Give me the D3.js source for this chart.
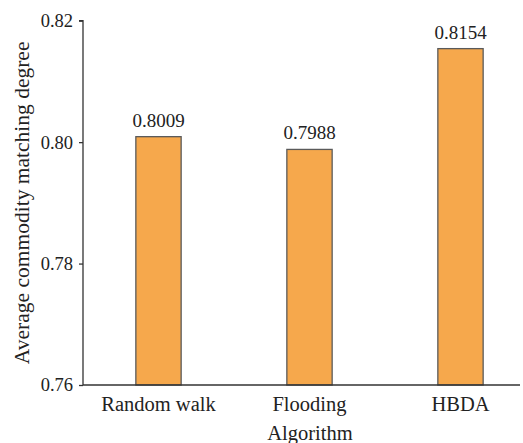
<!DOCTYPE html>
<html><head><meta charset="utf-8">
<script src="https://cdn.jsdelivr.net/npm/d3@7"></script>
<style>body{margin:0;background:#fff}svg{display:block}text{font-family:"Times New Roman","Liberation Serif",serif;fill:#222}</style>
</head><body>
<svg id="c" width="523" height="443"></svg>
<script>
const categories = ["Random walk", "Flooding", "HBDA"];
const values = [0.8009, 0.7988, 0.8154];
const valueLabels = ["0.8009", "0.7988", "0.8154"];
const yTicks = [0.76, 0.78, 0.80, 0.82];

(function(){
const svg = d3.select("#c");
const mL = 83, mR = 536, mT = 20.7, mB = 385;
const x = d3.scaleBand().domain(categories).range([mL, mR]).paddingInner(0.7).paddingOuter(0.35);
const y = d3.scaleLinear().domain([0.76, 0.82]).range([mB, mT]);

svg.selectAll("rect.bar").data(values).join("rect").attr("class","bar")
  .attr("x",(d,i)=>x(categories[i])).attr("width",x.bandwidth())
  .attr("y",d=>y(d)).attr("height",d=>mB-y(d))
  .attr("fill","#F6A84C").attr("stroke","#5a5a5a").attr("stroke-width",1.3);

svg.selectAll("text.val").data(values).join("text").attr("class","val")
  .attr("x",(d,i)=>x(categories[i])+x.bandwidth()/2).attr("y",d=>y(d)-10)
  .attr("text-anchor","middle").attr("font-size",19).text((d,i)=>valueLabels[i]);

const yAxis = svg.append("g").attr("transform",`translate(${mL},0)`)
  .call(d3.axisLeft(y).tickValues(yTicks).tickFormat(d3.format(".2f")).tickSize(4).tickPadding(6));
yAxis.attr("font-family",null).attr("font-size",null);
yAxis.select(".domain").attr("d",`M-4,${mT}H0V${mB}`).attr("stroke","#333").attr("stroke-width",1.3);
yAxis.selectAll(".tick line").attr("stroke","#333").attr("stroke-width",1.3);
yAxis.selectAll(".tick text").attr("font-size",18.5).attr("fill","#222");

svg.append("line").attr("x1",mL).attr("x2",520).attr("y1",mB).attr("y2",mB).attr("stroke","#333").attr("stroke-width",1.3);

svg.selectAll("text.cat").data(categories).join("text").attr("class","cat")
  .attr("x",d=>x(d)+x.bandwidth()/2).attr("y",411).attr("text-anchor","middle").attr("font-size",20.5).text(d=>d);

svg.append("text").attr("x",310).attr("y",440).attr("text-anchor","middle").attr("font-size",20.5).text("Algorithm");
svg.append("text").attr("transform",`translate(29,${(mT+mB)/2}) rotate(-90)`).attr("text-anchor","middle").attr("font-size",21.5).text("Average commodity matching degree");
})();
</script>
</body></html>
